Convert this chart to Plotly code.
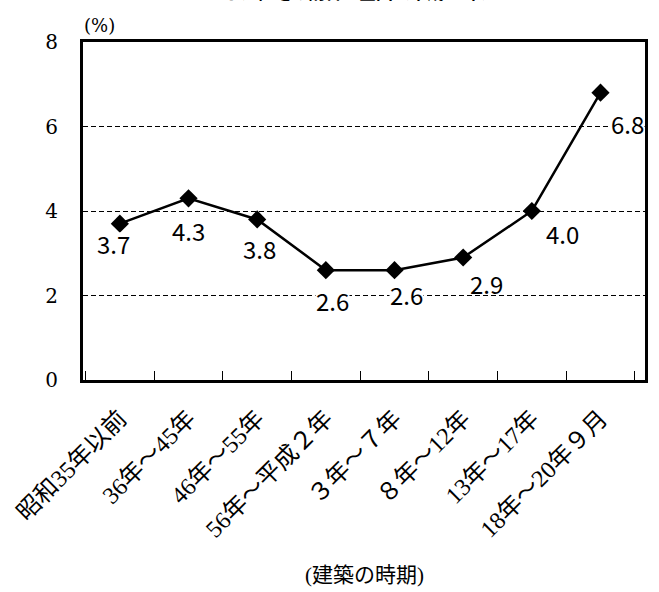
import plotly.graph_objects as go

# 建築の時期別の割合（%）
periods = ["昭和35年以前", "36年～45年", "46年～55年", "56年～平成２年",
           "３年～７年", "８年～12年", "13年～17年", "18年～20年９月"]
rates = [3.7, 4.3, 3.8, 2.6, 2.6, 2.9, 4.0, 6.8]
value_labels = ["3.7", "4.3", "3.8", "2.6", "2.6", "2.9", "4.0", "6.8"]
# label offsets from each point, in pixels (right, down)
label_dx = [-6, 0, 2, 7, 12, 23, 31, 27]
label_dy = [20, 32, 29, 30, 24, 26, 22, 31]
y_ticks = [0, 2, 4, 6, 8]

SERIF_NUM = "DejaVu Serif"
SERIF_JP = "'Liberation Serif', 'Noto Sans CJK JP', serif"
GOTHIC = "Noto Sans CJK JP"

fig = go.Figure()
fig.add_trace(go.Scatter(
    x=periods, y=rates, mode="lines+markers",
    line=dict(color="black", width=2.5),
    marker=dict(symbol="diamond", size=14, color="black"),
    showlegend=False, hoverinfo="skip", cliponaxis=False,
))

for p, v, t, dx, dy in zip(periods, rates, value_labels, label_dx, label_dy):
    fig.add_annotation(
        x=p, y=v, xref="x", yref="y", text=t, showarrow=False,
        xshift=dx, yshift=-dy, bgcolor="white", borderpad=0,
        height=21, valign="middle",
        font=dict(family=GOTHIC, size=24, color="black"),
    )

fig.add_annotation(
    x=0.03, y=1.0, xref="paper", yref="paper", xanchor="center", yanchor="bottom",
    text="(%)", showarrow=False, yshift=4,
    font=dict(family=SERIF_NUM, size=18, color="black"),
)
fig.add_annotation(
    x=0.5, y=0, xref="paper", yref="paper", xanchor="center", yanchor="middle",
    text="(建築の時期)", showarrow=False, yshift=-195,
    font=dict(family=SERIF_JP, size=21, color="black"),
)
fig.add_annotation(
    x=0.478, y=1.0, xref="paper", yref="paper", xanchor="center", yanchor="bottom",
    text="<b>をした住宅の割合－全国（平成20年）</b>", showarrow=False, yshift=36,
    font=dict(family=GOTHIC, size=17, color="black"),
)

fig.update_xaxes(
    type="category", showline=True, linecolor="black", linewidth=3, mirror=True,
    ticks="inside", tickson="boundaries", ticklen=9, tickcolor="black", tickwidth=1,
    tickangle=-45, showgrid=False, ticklabelstandoff=12,
    tickfont=dict(family=SERIF_JP, size=24, color="black"),
)
fig.update_yaxes(
    range=[0, 8], tickvals=y_ticks, showline=True, linecolor="black", linewidth=3,
    mirror=True, ticks="", showgrid=True, gridcolor="black", gridwidth=1.2,
    griddash="5px,3px", zeroline=False, ticklabelstandoff=18,
    tickfont=dict(family=SERIF_NUM, size=20, color="black"),
)

fig.update_layout(
    width=659, height=592,
    margin=dict(l=83, r=11, t=42, b=212),
    plot_bgcolor="white", paper_bgcolor="white",
)

fig.write_html("out.html")
